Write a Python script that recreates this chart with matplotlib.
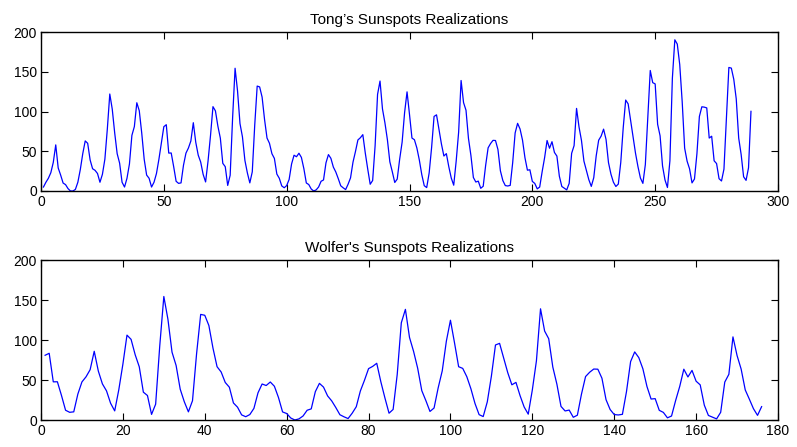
import matplotlib
matplotlib.use('Agg')
import matplotlib.pyplot as plt
import numpy as np

# yearly sunspot numbers, 1700-1748 (start of Tong's series)
early = [5, 11, 16, 23, 36, 58, 29, 20, 10, 8, 3, 0, 0, 2, 11, 27, 47, 63, 60, 39,
         28, 26, 22, 11, 21, 40, 78, 122, 103, 73, 47, 35, 11, 5, 16, 34, 70, 81, 111, 101,
         73, 40, 20, 16, 5, 11, 22, 40, 60]

# Wolfer's series, 1749-1924
wolfer = [80.9, 83.4, 47.7, 47.8, 30.7, 12.2, 9.6, 10.2, 32.4, 47.6,
          54.0, 62.9, 85.9, 61.2, 45.1, 36.4, 20.9, 11.4, 37.8, 69.8,
          106.1, 100.8, 81.6, 66.5, 34.8, 30.6, 7.0, 19.8, 92.5, 154.4,
          125.9, 84.8, 68.1, 38.5, 22.8, 10.2, 24.1, 82.9, 132.0, 130.9,
          118.1, 89.9, 66.6, 60.0, 46.9, 41.0, 21.3, 16.0, 6.4, 4.1,
          6.8, 14.5, 34.0, 45.0, 43.1, 47.5, 42.2, 28.1, 10.1, 8.1,
          2.5, 0.0, 1.4, 5.0, 12.2, 13.9, 35.4, 45.8, 41.1, 30.1,
          23.9, 15.6, 6.6, 4.0, 1.8, 8.5, 16.6, 36.3, 49.6, 64.2,
          67.0, 70.9, 47.8, 27.5, 8.5, 13.2, 56.9, 121.5, 138.3, 103.2,
          85.7, 64.6, 36.7, 24.2, 10.7, 15.0, 40.1, 61.5, 98.5, 124.7,
          96.3, 66.6, 64.5, 54.1, 39.0, 20.6, 6.7, 4.3, 22.7, 54.8,
          93.8, 95.8, 77.2, 59.1, 44.0, 47.0, 30.5, 16.3, 7.3, 37.6,
          74.0, 139.0, 111.2, 101.6, 66.2, 44.7, 17.0, 11.3, 12.4, 3.4,
          6.0, 32.3, 54.3, 59.7, 63.7, 63.5, 52.2, 25.4, 13.1, 6.8,
          6.3, 7.1, 35.6, 73.0, 85.1, 78.0, 64.0, 41.8, 26.2, 26.7,
          12.1, 9.5, 2.7, 5.0, 24.4, 42.0, 63.5, 53.8, 62.0, 48.5,
          43.9, 18.6, 5.7, 3.6, 1.4, 9.6, 47.4, 57.1, 103.9, 80.6,
          63.6, 37.6, 26.1, 14.2, 5.8, 16.7]

# 1925-1988 (end of Tong's series)
late = [44.3, 63.9, 69.0, 77.8, 64.9, 35.7, 21.2, 11.1, 5.7, 8.7,
        36.1, 79.7, 114.4, 109.6, 88.8, 67.8, 47.5, 30.6, 16.3, 9.6,
        33.2, 92.6, 151.6, 136.3, 134.7, 83.9, 69.4, 31.5, 13.9, 4.4,
        38.0, 141.7, 190.2, 184.8, 159.0, 112.3, 53.9, 37.5, 27.9, 10.2,
        15.1, 47.0, 93.8, 105.9, 105.5, 104.5, 66.6, 68.9, 38.0, 34.5,
        15.5, 12.6, 27.5, 92.5, 155.4, 154.6, 140.5, 115.9, 66.6, 45.9,
        17.9, 13.4, 29.2, 100.2]

tong = early + wolfer + late

plt.rcParams['font.family'] = ['Liberation Sans', 'DejaVu Sans']

fig = plt.figure(figsize=(7.97, 4.47), dpi=100)
W, H = 797.0, 447.0

def make_axes(top_px, bottom_px):
    return fig.add_axes([41 / W, 1 - bottom_px / H, (778 - 41) / W, (bottom_px - top_px) / H])

def style(ax, xmax, xstep, title):
    ax.set_xlim(0, xmax)
    ax.set_ylim(0, 200)
    ax.set_xticks(np.arange(0, xmax + 1, xstep))
    ax.set_yticks([0, 50, 100, 150, 200])
    ax.tick_params(direction='in', top=True, right=True, length=5, width=0.8,
                   labelsize=10, pad=3)
    for s in ax.spines.values():
        s.set_linewidth(1.0)
    ax.set_title(title, fontsize=11, pad=6)

ax1 = make_axes(32, 191)
ax1.plot(np.arange(1, len(tong) + 1), tong, color='#0000ff', lw=0.9)
style(ax1, 300, 50, "Tong’s Sunspots Realizations")

ax2 = make_axes(260, 420)
ax2.plot(np.arange(1, len(wolfer) + 1), wolfer, color='#0000ff', lw=0.9)
style(ax2, 180, 20, "Wolfer's Sunspots Realizations")

fig.savefig('out.png', dpi=100)
